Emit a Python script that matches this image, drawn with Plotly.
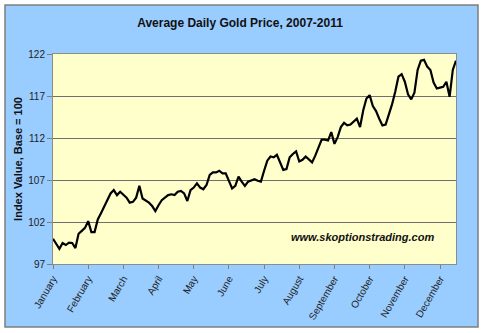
import plotly.graph_objects as go

months = ["January", "February", "March", "April", "May", "June", "July",
          "August", "September", "October", "November", "December"]
days_per_month = 11  # sampled points between month ticks

gold_index = [
    100.0, 99.45, 98.8, 99.5, 99.26, 99.55, 99.5, 98.9, 100.6, 100.95,
    101.3, 102.1, 100.8, 100.8, 102.3, 103.05, 103.9, 104.7, 105.4, 105.8,
    105.2, 105.6, 105.3, 104.9, 104.3, 104.4, 104.9, 106.3, 104.8, 104.6,
    104.3, 103.9, 103.3, 104.0, 104.6, 104.9, 105.2, 105.3, 105.2, 105.6,
    105.7, 105.4, 104.5, 105.8, 106.1, 106.6, 106.1, 105.9, 106.4, 107.6,
    107.9, 107.9, 108.1, 107.8, 107.8, 106.9, 106.0, 106.3, 107.4, 106.8,
    106.3, 106.8, 107.0, 107.1, 106.9, 106.8, 108.1, 109.3, 109.8, 109.7,
    110.0, 109.2, 108.2, 108.3, 109.7, 110.1, 110.4, 109.2, 109.4, 109.8,
    109.5, 109.1, 109.9, 110.9, 111.8, 111.8, 111.7, 112.7, 111.3, 112.1,
    113.3, 113.8, 113.5, 113.6, 113.9, 114.3, 113.3, 115.3, 116.7, 117.1,
    115.8, 115.2, 114.3, 113.5, 113.6, 114.7, 116.0, 117.5, 119.3, 119.6,
    118.7, 117.2, 116.6, 117.4, 120.1, 121.2, 121.3, 120.5, 120.1, 118.6,
    117.9, 118.0, 118.1, 118.7, 116.9, 120.1, 121.2,
]
y_ticks = [97, 102, 107, 112, 117, 122]

title = "Average Daily Gold Price, 2007-2011"
y_title = "Index Value, Base = 100"
watermark = "www.skoptionstrading.com"

x = list(range(len(gold_index)))
tickvals = [i * days_per_month for i in range(len(months))]

FONT = "Liberation Sans, Arial, sans-serif"
BLUE = "#99CCFF"
YELLOW = "#FFFFCC"

fig = go.Figure()
fig.add_trace(go.Scatter(x=x, y=gold_index, mode="lines",
                         line=dict(color="black", width=2.2),
                         hoverinfo="skip", showlegend=False))

W, H = 484, 333
ml, mr, mt, mb = 53, 28, 54, 69
pw, ph = W - ml - mr, H - mt - mb

def px_x(p):
    return (p - ml) / pw

def px_y(p):
    return (H - mb - p) / ph

fig.add_shape(type="rect", xref="paper", yref="paper",
              x0=px_x(5), x1=px_x(478), y0=px_y(327), y1=px_y(5),
              fillcolor=BLUE, line=dict(color="#7f7f7f", width=1.5), layer="below")
fig.add_shape(type="rect", xref="paper", yref="paper",
              x0=0, x1=1, y0=0, y1=1,
              fillcolor=YELLOW, line=dict(width=0), layer="below")

fig.update_layout(
    width=W, height=H,
    margin=dict(l=ml, r=mr, t=mt, b=mb),
    paper_bgcolor="white",
    plot_bgcolor=YELLOW,
    font=dict(family=FONT, size=10, color="#222222"),
    title=dict(text="<b>" + title + "</b>", x=240 / W, xanchor="center",
               y=1 - 23 / H, yanchor="middle",
               font=dict(family=FONT, size=12, color="#111111")),
    xaxis=dict(range=[0, len(gold_index) - 1], tickmode="array",
               tickvals=tickvals, ticktext=months, tickangle=-60,
               ticks="outside", ticklen=4, tickcolor="#7f7f7f",
               showgrid=False, zeroline=False,
               showline=True, linecolor="#8c8c8c", linewidth=1, mirror=True,
               tickfont=dict(size=10, color="#222222")),
    yaxis=dict(range=[97, 122], tickmode="array", tickvals=y_ticks,
               ticks="outside", ticklen=5, tickcolor="#7f7f7f",
               showgrid=True, gridcolor="#6f6f6f", gridwidth=1.2,
               zeroline=False,
               showline=True, linecolor="#8c8c8c", linewidth=1, mirror=True,
               title=dict(text="<b>" + y_title + "</b>", standoff=3,
                          font=dict(size=11, color="#111111")),
               tickfont=dict(size=10, color="#222222")),
)

fig.add_annotation(text="<b><i>" + watermark + "</i></b>", xref="paper", yref="paper",
                   x=px_x(362.5), y=px_y(237), xanchor="center", yanchor="middle",
                   showarrow=False, font=dict(family=FONT, size=11, color="#111111"))

fig.write_html("out.html")
